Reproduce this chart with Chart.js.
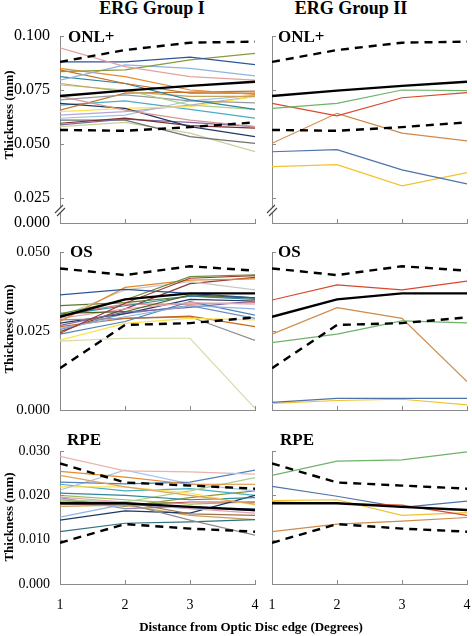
<!DOCTYPE html>
<html>
<head>
<meta charset="utf-8">
<script src="https://cdn.jsdelivr.net/npm/chart.js@4.4.0/dist/chart.umd.min.js"></script>
<style>
  body { margin: 0; width: 472px; height: 636px; background: #fff; position: relative; overflow: hidden; font-family: 'Liberation Serif', serif; }
  canvas { position: absolute; }
  .t { position: absolute; font-weight: bold; line-height: 1; white-space: nowrap; color: #000; }
  .c { transform: translateX(-50%); }
  .v { transform: translate(-50%, -50%) rotate(-90deg); }
</style>
</head>
<body>
<canvas id="onl1" width="262" height="209" style="left:0;top:26px"></canvas>
<canvas id="onl2" width="210" height="209" style="left:262px;top:26px"></canvas>
<canvas id="os1" width="262" height="182" style="left:0;top:240px"></canvas>
<canvas id="os2" width="210" height="182" style="left:262px;top:240px"></canvas>
<canvas id="rpe1" width="262" height="181" style="left:0;top:439px"></canvas>
<canvas id="rpe2" width="210" height="181" style="left:262px;top:439px"></canvas>

<div class="t c" style="left:152px;top:-1px;font-size:18px">ERG Group I</div>
<div class="t c" style="left:351px;top:-1px;font-size:18px">ERG Group II</div>
<div class="t" style="left:68px;top:28px;font-size:17px">ONL+</div>
<div class="t" style="left:278px;top:28px;font-size:17px">ONL+</div>
<div class="t" style="left:70px;top:243px;font-size:17px">OS</div>
<div class="t" style="left:278px;top:243px;font-size:17px">OS</div>
<div class="t" style="left:67px;top:431px;font-size:17px">RPE</div>
<div class="t" style="left:280px;top:431px;font-size:17px">RPE</div>
<div class="t v" style="left:8px;top:115px;font-size:13px">Thickness (mm)</div>
<div class="t v" style="left:8px;top:329px;font-size:13px">Thickness (mm)</div>
<div class="t v" style="left:8px;top:517px;font-size:13px">Thickness (mm)</div>
<div class="t c" style="left:251px;top:620px;font-size:13px">Distance from Optic Disc edge (Degrees)</div>

<script>
// distance from the optic disc edge (degrees)
const distances = [1, 2, 3, 4];

// control limits (dashed) and control mean (solid black)
const onlUpper = [0.0880, 0.0935, 0.0969, 0.0974];
const onlMean = [0.0722, 0.0747, 0.0769, 0.0788];
const onlLower = [0.0565, 0.0561, 0.0578, 0.0600];
const osUpper = [0.0448, 0.0427, 0.0455, 0.0441];
const osMean = [0.0295, 0.0350, 0.0369, 0.0369];
const osLower = [0.0132, 0.0269, 0.0275, 0.0293];
const rpeUpper = [0.0272, 0.0229, 0.0222, 0.0215];
const rpeMean = [0.0182, 0.0182, 0.0174, 0.0167];
const rpeLower = [0.0093, 0.0135, 0.0125, 0.0118];

// ERG Group I patients
const onlGroup1 = [
  [0.0945, 0.0858, 0.0812, 0.0796],
  [0.0880, 0.0880, 0.0902, 0.0867],
  [0.0835, 0.0843, 0.0889, 0.0920],
  [0.0796, 0.0866, 0.0850, 0.0815],
  [0.0850, 0.0812, 0.0750, 0.0730],
  [0.0843, 0.0780, 0.0735, 0.0735],
  [0.0812, 0.0780, 0.0704, 0.0660],
  [0.0780, 0.0742, 0.0720, 0.0720],
  [0.0773, 0.0750, 0.0680, 0.0660],
  [0.0704, 0.0727, 0.0700, 0.0690],
  [0.0720, 0.0657, 0.0610, 0.0580],
  [0.0657, 0.0735, 0.0740, 0.0745],
  [0.0688, 0.0665, 0.0580, 0.0534],
  [0.0650, 0.0665, 0.0673, 0.0719],
  [0.0634, 0.0650, 0.0680, 0.0720],
  [0.0619, 0.0634, 0.0700, 0.0725],
  [0.0596, 0.0620, 0.0585, 0.0573],
  [0.0588, 0.0615, 0.0600, 0.0580],
  [0.0610, 0.0610, 0.0534, 0.0503],
  [0.0580, 0.0600, 0.0550, 0.0464],
  [0.0680, 0.0700, 0.0660, 0.0620],
];
const osGroup1 = [
  [0.0364, 0.0382, 0.0369, 0.0355],
  [0.0304, 0.0348, 0.0422, 0.0428],
  [0.0243, 0.0338, 0.0417, 0.0425],
  [0.0280, 0.0388, 0.0411, 0.0415],
  [0.0295, 0.0380, 0.0406, 0.0380],
  [0.0306, 0.0311, 0.0364, 0.0355],
  [0.0300, 0.0330, 0.0360, 0.0350],
  [0.0290, 0.0320, 0.0340, 0.0335],
  [0.0258, 0.0295, 0.0330, 0.0320],
  [0.0268, 0.0310, 0.0325, 0.0345],
  [0.0240, 0.0280, 0.0343, 0.0300],
  [0.0221, 0.0274, 0.0290, 0.0285],
  [0.0264, 0.0290, 0.0297, 0.0264],
  [0.0285, 0.0290, 0.0295, 0.0220],
  [0.0218, 0.0227, 0.0227, 0.0005],
  [0.0300, 0.0335, 0.0335, 0.0340],
  [0.0275, 0.0305, 0.0350, 0.0345],
  [0.0255, 0.0305, 0.0330, 0.0290],
  [0.0330, 0.0340, 0.0360, 0.0355],
  [0.0248, 0.0320, 0.0400, 0.0420],
];
const rpeGroup1 = [
  [0.0288, 0.0255, 0.0253, 0.0248],
  [0.0254, 0.0241, 0.0225, 0.0225],
  [0.0245, 0.0219, 0.0200, 0.0180],
  [0.0230, 0.0226, 0.0230, 0.0257],
  [0.0212, 0.0257, 0.0226, 0.0210],
  [0.0219, 0.0219, 0.0205, 0.0178],
  [0.0205, 0.0200, 0.0190, 0.0195],
  [0.0196, 0.0185, 0.0170, 0.0160],
  [0.0190, 0.0185, 0.0210, 0.0240],
  [0.0185, 0.0185, 0.0158, 0.0155],
  [0.0180, 0.0182, 0.0144, 0.0110],
  [0.0151, 0.0180, 0.0170, 0.0170],
  [0.0144, 0.0165, 0.0160, 0.0200],
  [0.0118, 0.0137, 0.0140, 0.0145],
  [0.0175, 0.0178, 0.0155, 0.0145],
  [0.0195, 0.0170, 0.0175, 0.0165],
  [0.0180, 0.0178, 0.0185, 0.0185],
  [0.0200, 0.0190, 0.0180, 0.0185],
  [0.0225, 0.0210, 0.0215, 0.0200],
  [0.0190, 0.0175, 0.0195, 0.0210],
];

// ERG Group II patients (green, red, orange, blue, yellow)
const onlGroup2 = [
  [0.0665, 0.0688, 0.0750, 0.0747],
  [0.0688, 0.0630, 0.0714, 0.0738],
  [0.0503, 0.0642, 0.0550, 0.0514],
  [0.0464, 0.0474, 0.0380, 0.0315],
  [0.0395, 0.0404, 0.0306, 0.0367],
];
const osGroup2 = [
  [0.0213, 0.0240, 0.0282, 0.0276],
  [0.0348, 0.0396, 0.0380, 0.0408],
  [0.0240, 0.0324, 0.0290, 0.0090],
  [0.0024, 0.0037, 0.0037, 0.0037],
  [0.0021, 0.0030, 0.0034, 0.0016],
];
const rpeGroup2 = [
  [0.0245, 0.0277, 0.0280, 0.0298],
  [0.0185, 0.0182, 0.0178, 0.0155],
  [0.0118, 0.0135, 0.0142, 0.0150],
  [0.0220, 0.0198, 0.0173, 0.0187],
  [0.0188, 0.0190, 0.0155, 0.0161],
];

// y axis tick values
const onlTicks = [0.0134, 0.025, 0.05, 0.075, 0.1];
const osTicks = [0, 0.025, 0.05];
const rpeTicks = [0, 0.01, 0.02, 0.03];

// colours
const onlColors1 = ['#E3A29F', '#2F5597', '#8A9A3B', '#8DB4E2', '#E58A2E', '#C46A1B', '#31859C', '#C4A35A', '#A9D08E', '#9A9A9A', '#D99694',
  '#B7773A', '#1F3864', '#FFE14D', '#B4A7D6', '#9DC3E6', '#7B2E2E', '#7F6A9E', '#707070', '#C9D29B', '#4BACC6'];
const osColors1 = ['#2F5597', '#6E8B3D', '#9C3B2E', '#E58A2E', '#C8C8C8', '#4F6228', '#31859C', '#E3A8B0', '#8DB4E2', '#8064A2', '#4F81BD',
  '#FFE14D', '#C46A1B', '#8C8C8C', '#D6DCA4', '#D97B78', '#1F3864', '#6F8FB8', '#5F7530', '#8B3A3A'];
const rpeColors1 = ['#E8B4B0', '#E58A2E', '#E0A060', '#4F81BD', '#A9C4E8', '#FFE14D', '#31859C', '#E3A2B8', '#A9D08E', '#A0724A', '#8C8C8C',
  '#8DB4E2', '#1F3864', '#31707C', '#C4A35A', '#9983B5', '#C0504D', '#9BBB59', '#4BACC6', '#8A9A3B'];
const colors2 = ['#6DB36A', '#D9482B', '#D08A4B', '#4F72A8', '#F2C230'];
const axisGray = '#8a8a8a';
const serif = 'Liberation Serif';

// inward tick marks and the axis break
const innerTicks = {
  id: 'innerTicks',
  afterDraw(chart, args, opts) {
    const { ctx, chartArea: a, scales: { x, y } } = chart;
    ctx.save();
    ctx.strokeStyle = axisGray;
    ctx.lineWidth = 1;
    ctx.beginPath();
    y.ticks.forEach((t) => {
      if (t.value > y.min) {
        const p = Math.round(y.getPixelForValue(t.value)) + 0.5;
        ctx.moveTo(a.left, p);
        ctx.lineTo(a.left + 4, p);
      }
    });
    x.ticks.forEach((t) => {
      if (t.value > x.min) {
        const p = Math.round(x.getPixelForValue(t.value)) + 0.5;
        ctx.moveTo(p, a.bottom);
        ctx.lineTo(p, a.bottom - 4);
      }
    });
    ctx.stroke();
    if (opts.broken) {
      const yb = 210 - 26;
      ctx.fillStyle = '#fff';
      ctx.fillRect(a.left - 2, yb - 2, 4, 4);
      ctx.strokeStyle = '#444';
      ctx.lineWidth = 1.1;
      ctx.beginPath();
      ctx.moveTo(a.left - 5, yb + 3);
      ctx.lineTo(a.left + 3, yb - 5);
      ctx.moveTo(a.left - 3, yb + 6);
      ctx.lineTo(a.left + 5, yb - 2);
      ctx.stroke();
    }
    ctx.restore();
  },
};

const toPoints = (vals) => vals.map((v, i) => ({ x: distances[i], y: v }));

const renderPanel = (id, lines, colors, upper, mean, lower, yMin, yMax, yTicks, cfg) => {
  const datasets = [
    { data: toPoints(upper), borderColor: '#000', borderWidth: 2.4, borderDash: [8, 6] },
    { data: toPoints(lower), borderColor: '#000', borderWidth: 2.4, borderDash: [8, 6] },
    { data: toPoints(mean), borderColor: '#000', borderWidth: 2.4 },
  ];
  lines.forEach((vals, i) => {
    datasets.push({ data: toPoints(vals), borderColor: colors[i], borderWidth: 1.2 });
  });
  const ctx = document.getElementById(id).getContext('2d');
  new Chart(ctx, {
    type: 'line',
    data: { datasets },
    plugins: [innerTicks],
    options: {
      responsive: false,
      animation: false,
      events: [],
      elements: { point: { radius: 0 }, line: { tension: 0 } },
      layout: { padding: { top: cfg.padTop, right: cfg.padRight, left: 0, bottom: 0 } },
      plugins: {
        legend: { display: false },
        tooltip: { enabled: false },
        innerTicks: { broken: cfg.broken },
      },
      scales: {
        x: {
          type: 'linear',
          min: 1,
          max: 4,
          // tick marks are hidden, tickLength only sets the label gap
          grid: { display: false, drawTicks: true, tickLength: 13 },
          border: { color: axisGray },
          ticks: { display: cfg.showX, stepSize: 1, padding: 0, color: '#000', font: { family: serif, size: 14 } },
          afterFit: (s) => { s.height = cfg.xHeight; },
        },
        y: {
          min: yMin,
          max: yMax,
          grid: { display: false, drawTicks: true, tickLength: 10 },
          border: { color: axisGray },
          afterBuildTicks: (s) => { s.ticks = yTicks.map((v) => ({ value: v })); },
          ticks: {
            display: cfg.showY,
            padding: 0,
            color: '#000',
            font: { family: serif, size: cfg.tickSize },
            callback: (v) => (v < 0.02 && cfg.broken ? '0.000' : v.toFixed(3)),
          },
          afterFit: (s) => { s.width = cfg.yWidth; },
        },
      },
    },
  });
};

const left = { padRight: 7, yWidth: 60, showY: true };
const right = { padRight: 5, yWidth: 10, showY: false };

renderPanel('onl1', onlGroup1, onlColors1, onlUpper, onlMean, onlLower, 0.0134, 0.1, onlTicks,
  { ...left, padTop: 10, xHeight: 12, showX: false, tickSize: 16, broken: true });
renderPanel('onl2', onlGroup2, colors2, onlUpper, onlMean, onlLower, 0.0134, 0.1, onlTicks,
  { ...right, padTop: 10, xHeight: 12, showX: false, tickSize: 16, broken: true });
renderPanel('os1', osGroup1, osColors1, osUpper, osMean, osLower, 0, 0.05, osTicks,
  { ...left, padTop: 12, xHeight: 12, showX: false, tickSize: 15, broken: false });
renderPanel('os2', osGroup2, colors2, osUpper, osMean, osLower, 0, 0.05, osTicks,
  { ...right, padTop: 12, xHeight: 12, showX: false, tickSize: 15, broken: false });
renderPanel('rpe1', rpeGroup1, rpeColors1, rpeUpper, rpeMean, rpeLower, 0, 0.03, rpeTicks,
  { ...left, padTop: 12, xHeight: 36, showX: true, tickSize: 14, broken: false });
renderPanel('rpe2', rpeGroup2, colors2, rpeUpper, rpeMean, rpeLower, 0, 0.03, rpeTicks,
  { ...right, padTop: 12, xHeight: 36, showX: true, tickSize: 14, broken: false });
</script>
</body>
</html>
